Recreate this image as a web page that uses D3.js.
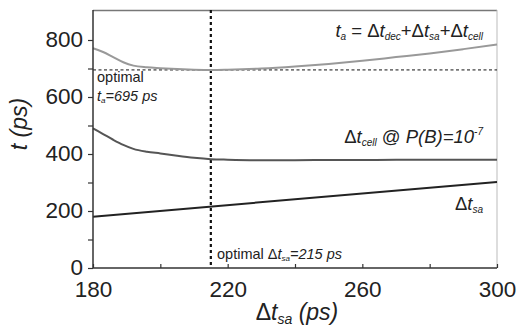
<!DOCTYPE html>
<html><head><meta charset="utf-8">
<script src="https://cdn.jsdelivr.net/npm/d3@7"></script>
<style>body{margin:0;background:#fff}svg{display:block;font-family:"Liberation Sans",Arial,sans-serif}</style>
</head><body>
<svg id="c" width="517" height="331"></svg>
<script>
const xVals = [180, 183, 186, 189, 192, 196, 200, 205, 210, 215, 220, 230, 240, 250, 260, 270, 280, 290, 300];
const taVals = [771, 758, 740, 722, 710, 704, 701, 698, 696, 695, 696, 700, 707, 716, 727, 740, 753, 768, 784];
const cellVals = [490, 470, 450, 432, 418, 408, 402, 394, 387, 382, 380, 378, 378, 379, 379, 380, 380, 380, 380];
const saXs = [180, 300];
const saVals = [180, 302];
const xTicks = [180, 220, 260, 300];
const xMinor = [200, 240, 280];
const yTicks = [0, 200, 400, 600, 800];
const yMinor = [100, 300, 500, 700];
const optX = 215, optT = 695;

const svg = d3.select("#c");
const x = d3.scaleLinear().domain([180, 300]).range([93, 497]);
const y = d3.scaleLinear().domain([0, 900]).range([268, 11.5]);

// frame top/right
svg.append("line").attr("x1", 93).attr("x2", 497).attr("y1", 10.5).attr("y2", 10.5).attr("stroke", "#777").attr("stroke-width", 1.5);
svg.append("line").attr("x1", 497).attr("x2", 497).attr("y1", 10).attr("y2", 268).attr("stroke", "#bbb").attr("stroke-width", 1);

// reference lines
svg.append("line").attr("x1", x(180)).attr("x2", x(300)).attr("y1", y(optT)).attr("y2", y(optT))
  .attr("stroke", "#111").attr("stroke-width", 1).attr("stroke-dasharray", "3,2.5");
svg.append("line").attr("x1", x(optX)).attr("x2", x(optX)).attr("y1", 10).attr("y2", 268)
  .attr("stroke", "#111").attr("stroke-width", 2.2).attr("stroke-dasharray", "3,3");

const line = d3.line().x(d => x(d[0])).y(d => y(d[1])).curve(d3.curveMonotoneX);
svg.append("path").attr("d", line(xVals.map((v, i) => [v, taVals[i]]))).attr("fill", "none").attr("stroke", "#999").attr("stroke-width", 2);
svg.append("path").attr("d", line(xVals.map((v, i) => [v, cellVals[i]]))).attr("fill", "none").attr("stroke", "#555").attr("stroke-width", 2);
svg.append("path").attr("d", line(saXs.map((v, i) => [v, saVals[i]]))).attr("fill", "none").attr("stroke", "#222").attr("stroke-width", 2);

// axes
const ya = svg.append("g").attr("transform", "translate(93,0)")
  .call(d3.axisLeft(y).tickValues(yTicks.concat(yMinor)).tickSize(5).tickFormat(d => yTicks.includes(d) ? d : ""));
ya.select(".domain").attr("d", "M0,10V268").attr("stroke", "#333").attr("stroke-width", 1.5);
ya.selectAll("line").attr("stroke", "#333").attr("stroke-width", 1.2);
ya.selectAll("text").attr("font-size", 22.5).attr("fill", "#222").attr("font-family", "Liberation Sans, Arial").attr("x", -10).attr("dy", "0.28em");

const xa = svg.append("g").attr("transform", "translate(0,268)")
  .call(d3.axisBottom(x).tickValues(xTicks.concat(xMinor)).tickSize(-4).tickFormat(d => xTicks.includes(d) ? d : ""));
xa.select(".domain").attr("d", "M93,0H497").attr("stroke", "#333").attr("stroke-width", 1.5);
xa.selectAll("line").attr("stroke", "#333").attr("stroke-width", 1.2);
xa.selectAll("text").attr("font-size", 22.5).attr("fill", "#222").attr("font-family", "Liberation Sans, Arial").attr("y", 13).attr("dy", "0.71em");

// axis titles
svg.append("text").attr("transform", "translate(27,124) rotate(-90)").attr("text-anchor", "middle")
  .attr("font-size", 23).attr("font-style", "italic").attr("fill", "#222")
  .text("t (ps)");
const xt = svg.append("text").attr("x", 297).attr("y", 320).attr("text-anchor", "middle").attr("font-size", 23).attr("fill", "#222");
xt.append("tspan").text("Δ");
xt.append("tspan").attr("font-style", "italic").text("t");
xt.append("tspan").attr("font-style", "italic").attr("font-size", 14).attr("dy", 4).text("sa");
xt.append("tspan").attr("font-style", "italic").attr("dy", -4).text(" (ps)");

// annotations
const a1 = svg.append("text").attr("x", 483).attr("y", 37).attr("text-anchor", "end").attr("font-size", 18.5).attr("fill", "#222");
a1.append("tspan").attr("font-style", "italic").text("t");
a1.append("tspan").attr("font-style", "italic").attr("font-size", 10).attr("dy", 3).text("a");
a1.append("tspan").attr("dy", -3).text(" = Δ");
a1.append("tspan").attr("font-style", "italic").text("t");
a1.append("tspan").attr("font-style", "italic").attr("font-size", 10).attr("dy", 3).text("dec");
a1.append("tspan").attr("dy", -3).text("+Δ");
a1.append("tspan").attr("font-style", "italic").text("t");
a1.append("tspan").attr("font-style", "italic").attr("font-size", 10).attr("dy", 3).text("sa");
a1.append("tspan").attr("dy", -3).text("+Δ");
a1.append("tspan").attr("font-style", "italic").text("t");
a1.append("tspan").attr("font-style", "italic").attr("font-size", 10).attr("dy", 3).text("cell");

const a2 = svg.append("text").attr("x", 483).attr("y", 143).attr("text-anchor", "end").attr("font-size", 18.5).attr("fill", "#222");
a2.append("tspan").text("Δ");
a2.append("tspan").attr("font-style", "italic").text("t");
a2.append("tspan").attr("font-style", "italic").attr("font-size", 10).attr("dy", 3).text("cell");
a2.append("tspan").attr("dy", -3).text(" @ ");
a2.append("tspan").attr("font-style", "italic").text("P(B)=10");
a2.append("tspan").attr("font-style", "italic").attr("font-size", 10).attr("dy", -8).text("-7");

const a3 = svg.append("text").attr("x", 483).attr("y", 210).attr("text-anchor", "end").attr("font-size", 18.5).attr("fill", "#222");
a3.append("tspan").text("Δ");
a3.append("tspan").attr("font-style", "italic").text("t");
a3.append("tspan").attr("font-style", "italic").attr("font-size", 10).attr("dy", 3).text("sa");

svg.append("text").attr("x", 97).attr("y", 82).attr("font-size", 14.5).attr("fill", "#222").text("optimal");
const a4 = svg.append("text").attr("x", 97).attr("y", 101).attr("font-size", 14.5).attr("fill", "#222").attr("font-style", "italic");
a4.append("tspan").text("t");
a4.append("tspan").attr("font-size", 8).attr("dy", 2).text("a");
a4.append("tspan").attr("dy", -2).text("=695 ps");

const a5 = svg.append("text").attr("x", 217).attr("y", 259).attr("font-size", 14.5).attr("fill", "#222");
a5.append("tspan").text("optimal Δ");
a5.append("tspan").attr("font-style", "italic").text("t");
a5.append("tspan").attr("font-style", "italic").attr("font-size", 8).attr("dy", 2).text("sa");
a5.append("tspan").attr("font-style", "italic").attr("dy", -2).text("=215 ps");
</script>
</body></html>
